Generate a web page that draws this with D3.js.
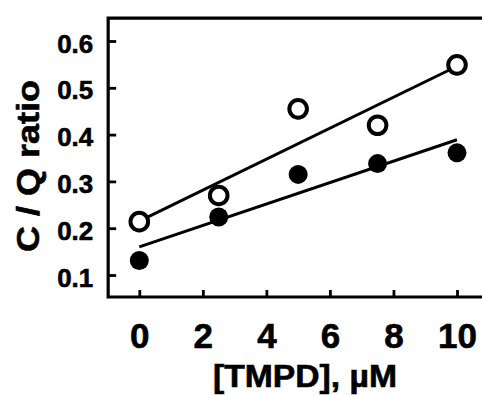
<!DOCTYPE html>
<html>
<head>
<meta charset="utf-8">
<script src="https://cdn.jsdelivr.net/npm/d3@7"></script>
<style>
  body { margin: 0; background: #fff; }
  text { font-family: "Liberation Sans", Arial, sans-serif; font-weight: bold; fill: #000; stroke: #000; stroke-width: 0.6px; }
</style>
</head>
<body>
<svg id="chart" width="482" height="395"></svg>
<script>
// TMPD concentration (uM)
const tmpd = [0, 2.5, 5, 7.5, 10];
// C/Q ratio, open circles and filled circles
const openVals = [0.214, 0.270, 0.455, 0.420, 0.549];
const filledVals = [0.131, 0.224, 0.315, 0.338, 0.361];
// fitted lines, read as end points
const openFit = [[0, 0.215], [10, 0.546]];
const filledFit = [[0, 0.160], [10, 0.389]];
const xTicks = [0, 2, 4, 6, 8, 10];
const yTicks = [0.1, 0.2, 0.3, 0.4, 0.5, 0.6];

const svg = d3.select("#chart");

const x = d3.scaleLinear().domain([0, 10]).range([139.3, 457]);
const y = d3.scaleLinear().domain([0.1, 0.6]).range([275, 41]);

const frameL = x(-0.98), frameR = 490, frameT = y(0.649), frameB = y(0.053);

// frame
svg.append("path")
  .attr("d", `M${frameR},${frameT}H${frameL}V${frameB}H${frameR}`)
  .attr("fill", "none").attr("stroke", "#000").attr("stroke-width", 3.2);

// y axis, ticks pointing inward
const gy = svg.append("g").attr("transform", `translate(${frameL},0)`)
  .call(d3.axisLeft(y).tickValues(yTicks).tickSize(-8).tickPadding(15).tickFormat(d3.format(".1f")));
gy.select(".domain").remove();
gy.selectAll("line").attr("stroke", "#000").attr("stroke-width", 2.8);
gy.selectAll("text").attr("dy", 11).style("font-size", "26px").attr("font-size", null).attr("font-family", null)
  .attr("textLength", 36).attr("lengthAdjust", "spacingAndGlyphs");

// x axis
const gx = svg.append("g").attr("transform", `translate(0,${frameB})`)
  .call(d3.axisBottom(x).tickValues(xTicks).tickSize(-7).tickPadding(0));
gx.select(".domain").remove();
gx.selectAll("line").attr("stroke", "#000").attr("stroke-width", 2.8);
gx.selectAll("text").attr("y", 51).attr("dy", 0).style("font-size", "35px").attr("font-size", null).attr("font-family", null);

// axis titles
svg.append("text")
  .attr("x", 305).attr("y", 387)
  .attr("text-anchor", "middle")
  .attr("textLength", 184).attr("lengthAdjust", "spacingAndGlyphs")
  .style("font-size", "31px")
  .text("[TMPD], µM");

svg.append("text")
  .attr("transform", "translate(39,166) rotate(-90)")
  .attr("text-anchor", "middle")
  .attr("textLength", 172).attr("lengthAdjust", "spacingAndGlyphs")
  .style("font-size", "32px")
  .text("C / Q ratio");

// fit lines
const line = d3.line().x(d => x(d[0])).y(d => y(d[1]));
[openFit, filledFit].forEach(f => {
  svg.append("path").attr("d", line(f))
    .attr("fill", "none").attr("stroke", "#000").attr("stroke-width", 3);
});

// points
svg.append("g").selectAll("circle").data(tmpd)
  .join("circle")
  .attr("cx", d => x(d))
  .attr("cy", (d, i) => y(filledVals[i]))
  .attr("r", 9.5)
  .attr("fill", "#000");

svg.append("g").selectAll("circle").data(tmpd)
  .join("circle")
  .attr("cx", d => x(d))
  .attr("cy", (d, i) => y(openVals[i]))
  .attr("r", 8.8)
  .attr("fill", "#fff")
  .attr("stroke", "#000")
  .attr("stroke-width", 4);
</script>
</body>
</html>
